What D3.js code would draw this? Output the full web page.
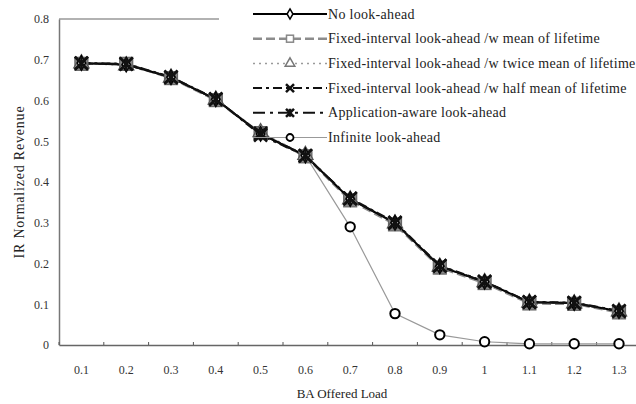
<!doctype html>
<html>
  <head>
    <meta charset="utf-8">
    <title>IR Normalized Revenue</title>
    <style>
      * { margin: 0; padding: 0; }
      body { background: #fff; }
    </style>
    <script src="https://d3js.org/d3.v7.min.js"></script>
  </head>
  <body>
    <div id="chart"></div>
    <script>
    // categories on the x axis
    const loads = ["0.1","0.2","0.3","0.4","0.5","0.6","0.7","0.8","0.9","1","1.1","1.2","1.3"];
    const yTicks = [0, 0.1, 0.2, 0.3, 0.4, 0.5, 0.6, 0.7, 0.8];

    // series values
    const noLookAhead   = [0.692, 0.688, 0.657, 0.603, 0.518, 0.465, 0.358, 0.300, 0.193, 0.155, 0.105, 0.103, 0.083];
    const fixedMean     = [0.690, 0.690, 0.655, 0.601, 0.520, 0.463, 0.355, 0.296, 0.190, 0.152, 0.102, 0.101, 0.080];
    const fixedTwice    = [0.691, 0.686, 0.656, 0.602, 0.522, 0.466, 0.357, 0.298, 0.192, 0.154, 0.104, 0.102, 0.082];
    const fixedHalf     = [0.692, 0.690, 0.658, 0.604, 0.515, 0.464, 0.360, 0.301, 0.195, 0.156, 0.106, 0.104, 0.084];
    const appAware      = [0.691, 0.689, 0.657, 0.603, 0.519, 0.465, 0.359, 0.299, 0.194, 0.155, 0.105, 0.103, 0.083];
    const infinite      = [0.691, 0.688, 0.656, 0.602, 0.519, 0.465, 0.290, 0.077, 0.025, 0.008, 0.003, 0.003, 0.003];

    const seriesNames = [
      "No look-ahead",
      "Fixed-interval look-ahead /w mean of lifetime",
      "Fixed-interval look-ahead /w twice mean of lifetime",
      "Fixed-interval look-ahead /w half mean of lifetime",
      "Application-aware look-ahead",
      "Infinite look-ahead"
    ];
    const seriesValues = [noLookAhead, fixedMean, fixedTwice, fixedHalf, appAware, infinite];

    // look of each series
    const styles = [
      { stroke: "#000", width: 2, dash: null, marker: "diamond" },
      { stroke: "#8c8c8c", width: 2.5, dash: "9,4", marker: "square" },
      { stroke: "#9a9a9a", width: 1.5, dash: "2,4", marker: "triangle" },
      { stroke: "#111", width: 2, dash: "9,4,3,4", marker: "x" },
      { stroke: "#111", width: 2, dash: "12,5,3,5", marker: "star" },
      { stroke: "#999", width: 1.2, dash: null, marker: "circle" }
    ];

    const FONT = '"Liberation Serif"';
    const W = 636, H = 404;
    const svg = d3.select("#chart").append("svg")
      .attr("width", W).attr("height", H)
      .attr("font-family", FONT);

    const x = d3.scaleBand().domain(loads).range([59, 641.4]);
    const y = d3.scaleLinear().domain([0, 0.8]).range([345, 19]);

    // frame: top line (partly hidden by legend), left axis
    svg.append("line")
      .attr("x1", 59).attr("x2", 219)
      .attr("y1", y(0.8)).attr("y2", y(0.8))
      .attr("stroke", "#999").attr("stroke-width", 1.5);

    const yAxis = svg.append("g")
      .attr("transform", "translate(59,0)")
      .call(d3.axisLeft(y).tickValues(yTicks).tickSize(0).tickPadding(10)
        .tickFormat(d => d === 0 ? "0" : d3.format(".1f")(d)));
    yAxis.attr("font-family", FONT).attr("font-size", 12);
    yAxis.select(".domain").attr("stroke", "#777").attr("stroke-width", 1.5);
    yAxis.selectAll("text").attr("fill", "#333");

    const xAxis = svg.append("g")
      .attr("transform", "translate(0," + y(0) + ")")
      .call(d3.axisBottom(x).tickSize(0).tickPadding(20));
    xAxis.attr("font-family", FONT).attr("font-size", 12);
    xAxis.select(".domain").attr("stroke", "#666").attr("stroke-width", 1.5);
    xAxis.selectAll("text").attr("fill", "#333");
    // little ticks between categories, pointing up
    xAxis.selectAll(".sep").data(loads).join("line")
      .attr("class", "sep")
      .attr("x1", d => x(d)).attr("x2", d => x(d))
      .attr("y1", 0).attr("y2", -3)
      .attr("stroke", "#555");

    // axis titles
    svg.append("text")
      .attr("x", 342).attr("y", 398)
      .attr("text-anchor", "middle")
      .attr("font-size", 13).attr("fill", "#222")
      .text("BA Offered Load");
    svg.append("text")
      .attr("transform", "translate(24,182) rotate(-90)")
      .attr("text-anchor", "middle")
      .attr("font-size", 14).attr("letter-spacing", 0.8).attr("fill", "#222")
      .text("IR Normalized Revenue");

    function drawMarker(g, type, size) {
      const s = size / 2;
      if (type === "diamond") {
        g.append("path").attr("d", d3.symbol(d3.symbolDiamond, size * size * 0.35)())
          .attr("fill", "#fff").attr("stroke", "#000").attr("stroke-width", 1.5);
      } else if (type === "square") {
        g.append("rect").attr("x", -s).attr("y", -s).attr("width", size).attr("height", size)
          .attr("fill", "#8a8a8a").attr("stroke", "#666").attr("stroke-width", 1.2);
      } else if (type === "triangle") {
        g.append("path").attr("d", d3.symbol(d3.symbolTriangle, size * size * 0.6)())
          .attr("fill", "#999").attr("stroke", "#555").attr("stroke-width", 1.2);
      } else if (type === "x") {
        g.append("path").attr("d", `M${-s},${-s}L${s},${s}M${-s},${s}L${s},${-s}`)
          .attr("stroke", "#111").attr("stroke-width", 2.5);
      } else if (type === "star") {
        g.append("path").attr("d", `M${-s},${-s}L${s},${s}M${-s},${s}L${s},${-s}M0,${-s}L0,${s}`)
          .attr("stroke", "#111").attr("stroke-width", 2.5);
      } else if (type === "circle") {
        g.append("circle").attr("r", s * 0.85)
          .attr("fill", "#fff").attr("stroke", "#000").attr("stroke-width", 2);
      }
    }

    const line = d3.line()
      .x((d, i) => x(loads[i]) + x.bandwidth() / 2)
      .y(d => y(d));

    // draw infinite first so the others sit on top
    const order = [5, 1, 2, 0, 3, 4];
    order.forEach(k => {
      const st = styles[k];
      svg.append("path")
        .datum(seriesValues[k])
        .attr("d", line)
        .attr("fill", "none")
        .attr("stroke", st.stroke)
        .attr("stroke-width", st.width)
        .attr("stroke-dasharray", st.dash);
    });
    order.forEach(k => {
      const st = styles[k];
      seriesValues[k].forEach((v, i) => {
        const g = svg.append("g")
          .attr("transform", `translate(${x(loads[i]) + x.bandwidth() / 2},${y(v)})`);
        drawMarker(g, st.marker, k === 5 ? 11 : 13);
      });
    });

    // legend
    const legend = svg.append("g").attr("transform", "translate(253,14)");
    seriesNames.forEach((name, k) => {
      const st = styles[k];
      const row = legend.append("g").attr("transform", `translate(0,${k * 24.7})`);
      row.append("line")
        .attr("x1", 0).attr("x2", 74).attr("y1", 0).attr("y2", 0)
        .attr("stroke", st.stroke).attr("stroke-width", st.width)
        .attr("stroke-dasharray", st.dash);
      const m = row.append("g").attr("transform", "translate(37,0)");
      if (st.marker === "circle") {
        m.append("circle").attr("r", 3.5).attr("fill", "#fff").attr("stroke", "#000").attr("stroke-width", 1.8);
      } else if (st.marker === "diamond") {
        m.append("path").attr("d", d3.symbol(d3.symbolDiamond, 30)())
          .attr("fill", "#fff").attr("stroke", "#000").attr("stroke-width", 1.5);
      } else if (st.marker === "square") {
        m.append("rect").attr("x", -3.5).attr("y", -3.5).attr("width", 7).attr("height", 7)
          .attr("fill", "#fff").attr("stroke", "#888").attr("stroke-width", 1.5);
      } else if (st.marker === "triangle") {
        m.append("path").attr("d", d3.symbol(d3.symbolTriangle, 40)())
          .attr("fill", "#fff").attr("stroke", "#777").attr("stroke-width", 1.5);
      } else {
        drawMarker(m, st.marker, 8);
      }
      row.append("text")
        .attr("x", 75).attr("y", 4.5)
        .attr("font-size", 14).attr("letter-spacing", 0.3).attr("fill", "#222")
        .text(name);
    });
    </script>
  </body>
</html>
